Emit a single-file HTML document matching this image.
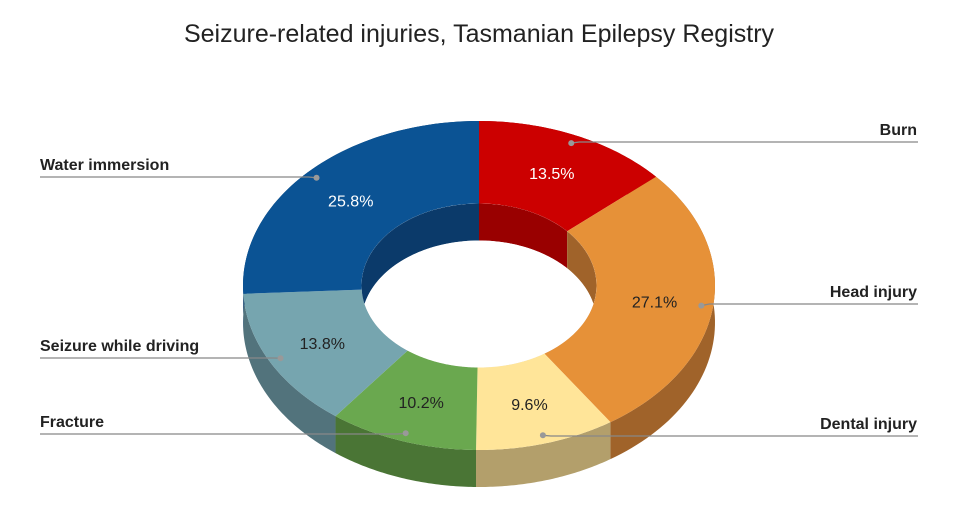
<!DOCTYPE html>
<html><head><meta charset="utf-8"><style>
html,body{margin:0;padding:0;background:#fff;}
svg{display:block;font-family:"Liberation Sans",sans-serif;}
</style></head><body>
<svg id="chart" width="964" height="518" viewBox="0 0 964 518" xmlns="http://www.w3.org/2000/svg">
<text x="479" y="42" text-anchor="middle" font-size="25" fill="#222">Seizure-related injuries, Tasmanian Epilepsy Registry</text>
<g id="walls"></g><g id="tops"></g><g id="inner"></g><g id="labels"></g>
</svg>
<script>
const categories = ["Burn","Head injury","Dental injury","Fracture","Seizure while driving","Water immersion"];
const values = [13.5,27.1,9.6,10.2,13.8,25.8];
const valueLabels = ["13.5%","27.1%","9.6%","10.2%","13.8%","25.8%"];
const topColors = ["#cc0000","#e69138","#ffe599","#6aa84f","#76a5af","#0b5394"];
const wallColors = ["#990000","#a0632a","#b39f6b","#4a7535","#52737c","#0b3a6a"];
const labelSide = ["right","right","right","left","left","left"];
const labelLineY = [142,304,436,434,358,177];

const NS="http://www.w3.org/2000/svg";
const cx=479, cy=285.5, rx=236, ry=164.5, irx=117.5, iry=82, depth=37;
const total=values.reduce((a,b)=>a+b,0);
function pt(t,k,dy){return [cx+k*rx*Math.sin(t), cy-k*ry*Math.cos(t)+(dy||0)];}
function ipt(t,dy){return [cx+irx*Math.sin(t), cy-iry*Math.cos(t)+(dy||0)];}
function arc(t1,t2,fn,dy){let s="";const n=60;for(let i=0;i<=n;i++){const t=t1+(t2-t1)*i/n;const p=fn(t,dy);s+=(i?"L":"M")+p[0].toFixed(2)+","+p[1].toFixed(2);}return s;}
function revArc(t1,t2,fn,dy){return arc(t2,t1,fn,dy).replace(/^M/,"L");}
const walls=document.getElementById('walls'),tops=document.getElementById('tops'),inner=document.getElementById('inner'),labels=document.getElementById('labels');
const svg=document.getElementById('chart');
// clip for hole
const defs=document.createElementNS(NS,'defs');
const cp=document.createElementNS(NS,'clipPath');cp.setAttribute('id','hole');
const ce=document.createElementNS(NS,'ellipse');ce.setAttribute('cx',cx);ce.setAttribute('cy',cy);ce.setAttribute('rx',irx);ce.setAttribute('ry',iry);
cp.appendChild(ce);defs.appendChild(cp);svg.insertBefore(defs,svg.firstChild);
inner.setAttribute('clip-path','url(#hole)');
const op=(t,dy)=>pt(t,1,dy);
let acc=0;
values.forEach((v,i)=>{
  const t1=acc/total*2*Math.PI, t2=(acc+v)/total*2*Math.PI; acc+=v;
  const w=document.createElementNS(NS,'path');
  w.setAttribute('d',arc(t1,t2,op,0)+revArc(t1,t2,op,depth)+"Z");
  w.setAttribute('fill',wallColors[i]);
  
  
  walls.appendChild(w);
  const tp=document.createElementNS(NS,'path');
  tp.setAttribute('d',arc(t1,t2,op,0)+revArc(t1,t2,ipt,0)+"Z");
  tp.setAttribute('fill',topColors[i]);
  
  
  tops.appendChild(tp);
  const iw=document.createElementNS(NS,'path');
  iw.setAttribute('d',arc(t1,t2,ipt,0)+revArc(t1,t2,ipt,depth)+"Z");
  iw.setAttribute('fill',wallColors[i]);
  
  
  inner.appendChild(iw);
  const tm=(t1+t2)/2;
  const lp=pt(tm,0.75,0);
  const tx=document.createElementNS(NS,'text');
  tx.setAttribute('x',lp[0]);tx.setAttribute('y',lp[1]+6);
  tx.setAttribute('text-anchor','middle');tx.setAttribute('font-size','16');
  tx.setAttribute('fill',(i===0||i===5)?'#fff':'#222');
  tx.textContent=valueLabels[i];
  
  
  labels.appendChild(tx);
  const dp=pt(tm,0.95,0);
  const ly=labelLineY[i];
  const right=labelSide[i]==='right';
  const ln=document.createElementNS(NS,'path');
  ln.setAttribute('d','M'+dp[0]+','+dp[1]+'L'+(dp[0]+(right?8:-8))+','+ly+'L'+(right?918:40)+','+ly);
  ln.setAttribute('stroke','#888');ln.setAttribute('fill','none');ln.setAttribute('stroke-width','1.3');
  
  
  labels.appendChild(ln);
  const dot=document.createElementNS(NS,'circle');
  dot.setAttribute('cx',dp[0]);dot.setAttribute('cy',dp[1]);dot.setAttribute('r','3');dot.setAttribute('fill','#999');
  
  
  labels.appendChild(dot);
  const ct=document.createElementNS(NS,'text');
  ct.setAttribute('x',right?917:40);ct.setAttribute('y',ly-7);
  ct.setAttribute('text-anchor',right?'end':'start');
  ct.setAttribute('font-size','16');ct.setAttribute('font-weight','bold');ct.setAttribute('fill','#222');
  ct.textContent=categories[i];
  
  
  labels.appendChild(ct);
});
const wh=document.createElementNS(NS,'ellipse');
wh.setAttribute('cx',cx);wh.setAttribute('cy',cy+depth);wh.setAttribute('rx',irx);wh.setAttribute('ry',iry);wh.setAttribute('fill','#fff');


inner.appendChild(wh);
</script>
</body></html>
